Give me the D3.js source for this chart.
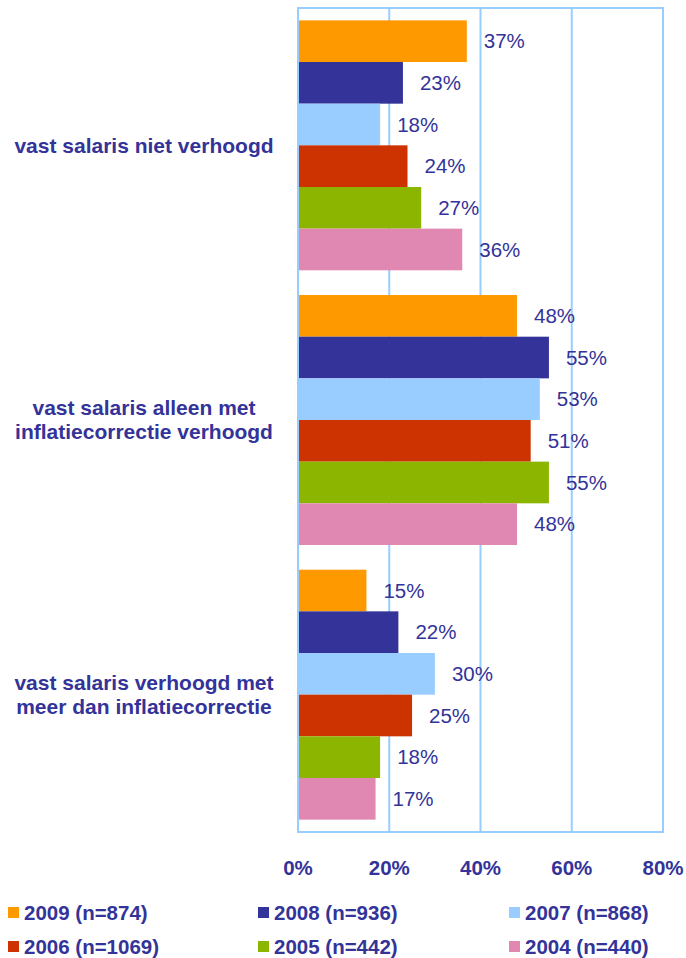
<!DOCTYPE html>
<html>
<head>
<meta charset="utf-8">
<script src="https://cdn.jsdelivr.net/npm/d3@7"></script>
<style>
  body { margin: 0; background: #fff; }
  text { font-family: Arial, "Liberation Sans", sans-serif; fill: #333399; }
</style>
</head>
<body>
<script>
let categories = [
  ['vast salaris niet verhoogd'],
  ['vast salaris alleen met', 'inflatiecorrectie verhoogd'],
  ['vast salaris verhoogd met', 'meer dan inflatiecorrectie']
]
let series = ['2009 (n=874)', '2008 (n=936)', '2007 (n=868)', '2006 (n=1069)', '2005 (n=442)', '2004 (n=440)']
let colors = ['#FF9900', '#333399', '#99CCFF', '#CC3300', '#8CB500', '#E088B2']
let values = [
  [37, 23, 18, 24, 27, 36],
  [48, 55, 53, 51, 55, 48],
  [15, 22, 30, 25, 18, 17]
]
let ticks = [0, 20, 40, 60, 80]

let width = 686, height = 958
let plot = { left: 298, right: 663, top: 8, bottom: 832 }

let svg = d3.select('body').append('svg')
  .attr('width', width)
  .attr('height', height)

let x = d3.scaleLinear()
  .domain([0, 80])
  .range([plot.left, plot.right])

let y = d3.scaleBand()
  .domain(d3.range(categories.length))
  .range([plot.top, plot.bottom])
  .paddingInner(0.09)
  .paddingOuter(0.045)

let ySub = d3.scaleBand()
  .domain(d3.range(series.length))
  .range([0, y.bandwidth()])

// grid + frame
svg.append('g')
  .selectAll('line')
  .data(ticks.slice(1, -1))
  .enter().append('line')
    .attr('x1', x).attr('x2', x)
    .attr('y1', plot.top).attr('y2', plot.bottom)
    .attr('stroke', '#99CCFF')
    .attr('stroke-width', 2)

svg.append('rect')
  .attr('x', plot.left).attr('y', plot.top)
  .attr('width', plot.right - plot.left)
  .attr('height', plot.bottom - plot.top)
  .attr('fill', 'none')
  .attr('stroke', '#99CCFF')
  .attr('stroke-width', 2)

// bars
let groups = svg.append('g').selectAll('g')
  .data(values)
  .enter().append('g')
    .attr('transform', (d, i) => 'translate(0,' + y(i) + ')')

groups.selectAll('rect')
  .data((d) => d)
  .enter().append('rect')
    .attr('x', x(0) + 1)
    .attr('y', (d, i) => ySub(i))
    .attr('width', (d) => x(d) - x(0) - 1)
    .attr('height', ySub.bandwidth())
    .attr('fill', (d, i) => colors[i])

groups.selectAll('text')
  .data((d) => d)
  .enter().append('text')
    .attr('x', (d) => x(d) + 17)
    .attr('y', (d, i) => ySub(i) + ySub.bandwidth() / 2)
    .attr('dy', '0.35em')
    .attr('font-size', 20.5)
    .text((d) => d + '%')

// category labels
let cat = svg.append('g').selectAll('text')
  .data(categories)
  .enter().append('text')
    .attr('x', 144)
    .attr('y', (d, i) => y(i) + y.bandwidth() / 2 - (d.length - 1) * 12)
    .attr('text-anchor', 'middle')
    .attr('font-size', 21)
    .attr('font-weight', 'bold')

cat.selectAll('tspan')
  .data((d) => d)
  .enter().append('tspan')
    .attr('x', 144)
    .attr('dy', (d, i) => i === 0 ? '0.35em' : 24)
    .text((d) => d)

// x axis labels
svg.append('g').selectAll('text')
  .data(ticks)
  .enter().append('text')
    .attr('x', x)
    .attr('y', 868)
    .attr('dy', '0.35em')
    .attr('text-anchor', 'middle')
    .attr('font-size', 20.5)
    .attr('font-weight', 'bold')
    .text((d) => d + '%')

// legend
let legendX = [8, 258, 509]
let legendY = [913, 947]
let legend = svg.append('g').selectAll('g')
  .data(series)
  .enter().append('g')
    .attr('transform', (d, i) => 'translate(' + [legendX[i % 3], legendY[Math.floor(i / 3)]] + ')')

legend.append('rect')
  .attr('x', 0).attr('y', -6)
  .attr('width', 11).attr('height', 11)
  .attr('fill', (d, i) => colors[i])

legend.append('text')
  .attr('x', 16)
  .attr('dy', '0.35em')
  .attr('font-size', 20.5)
  .attr('font-weight', 'bold')
  .text((d) => d)
</script>
</body>
</html>
